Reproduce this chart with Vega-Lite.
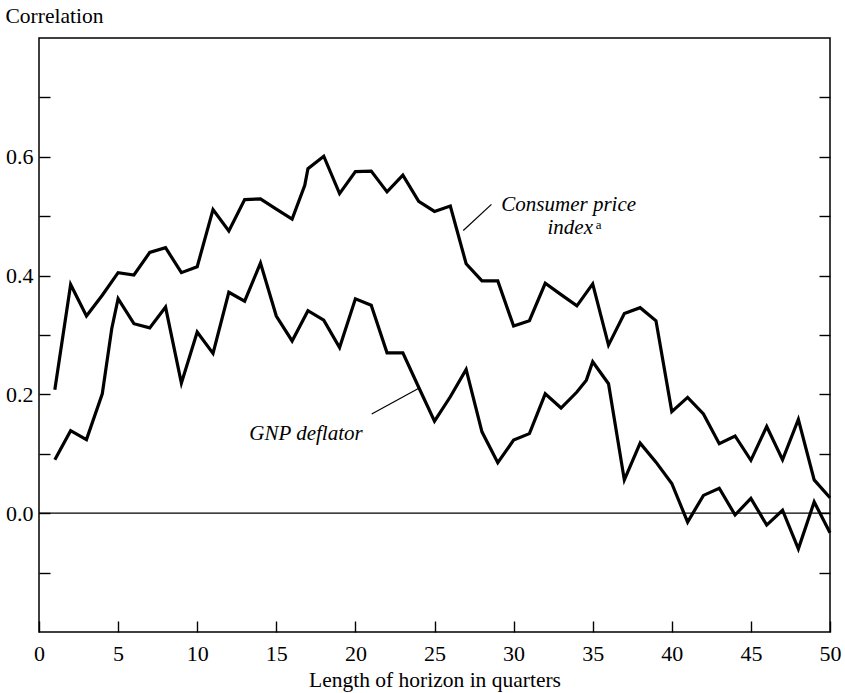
{
  "$schema": "https://vega.github.io/schema/vega-lite/v6.json",
  "width": 791,
  "height": 594,
  "autosize": {"type": "none"},
  "padding": {"left": 39, "top": 38, "right": 15, "bottom": 61},
  "background": "white",
  "config": {
    "view": {"stroke": "black", "strokeWidth": 1.5},
    "font": "Liberation Serif",
    "axis": {
      "labelFont": "Liberation Serif",
      "titleFont": "Liberation Serif",
      "labelColor": "black",
      "titleColor": "black",
      "tickColor": "black",
      "tickWidth": 1.4,
      "domain": false,
      "grid": false,
      "labelFontSize": 22,
      "titleFontSize": 21.5,
      "titleFontWeight": "normal",
      "labelOverlap": false,
      "labelFlush": false
    }
  },
  "datasets": {
    "lines": [
      {"series": "GNP deflator", "q": 1, "v": 0.090},
      {"series": "GNP deflator", "q": 2, "v": 0.139},
      {"series": "GNP deflator", "q": 3, "v": 0.124},
      {"series": "GNP deflator", "q": 4, "v": 0.201},
      {"series": "GNP deflator", "q": 4.6, "v": 0.311},
      {"series": "GNP deflator", "q": 5, "v": 0.361},
      {"series": "GNP deflator", "q": 6, "v": 0.319},
      {"series": "GNP deflator", "q": 7, "v": 0.312},
      {"series": "GNP deflator", "q": 8, "v": 0.347},
      {"series": "GNP deflator", "q": 9, "v": 0.219},
      {"series": "GNP deflator", "q": 10, "v": 0.305},
      {"series": "GNP deflator", "q": 11, "v": 0.269},
      {"series": "GNP deflator", "q": 12, "v": 0.372},
      {"series": "GNP deflator", "q": 13, "v": 0.357},
      {"series": "GNP deflator", "q": 14, "v": 0.421},
      {"series": "GNP deflator", "q": 15, "v": 0.332},
      {"series": "GNP deflator", "q": 16, "v": 0.290},
      {"series": "GNP deflator", "q": 17, "v": 0.341},
      {"series": "GNP deflator", "q": 18, "v": 0.325},
      {"series": "GNP deflator", "q": 19, "v": 0.279},
      {"series": "GNP deflator", "q": 20, "v": 0.361},
      {"series": "GNP deflator", "q": 21, "v": 0.350},
      {"series": "GNP deflator", "q": 22, "v": 0.270},
      {"series": "GNP deflator", "q": 23, "v": 0.270},
      {"series": "GNP deflator", "q": 24, "v": 0.212},
      {"series": "GNP deflator", "q": 25, "v": 0.155},
      {"series": "GNP deflator", "q": 26, "v": 0.196},
      {"series": "GNP deflator", "q": 27, "v": 0.242},
      {"series": "GNP deflator", "q": 28, "v": 0.137},
      {"series": "GNP deflator", "q": 29, "v": 0.085},
      {"series": "GNP deflator", "q": 30, "v": 0.123},
      {"series": "GNP deflator", "q": 31, "v": 0.134},
      {"series": "GNP deflator", "q": 32, "v": 0.201},
      {"series": "GNP deflator", "q": 33, "v": 0.177},
      {"series": "GNP deflator", "q": 34, "v": 0.204},
      {"series": "GNP deflator", "q": 34.6, "v": 0.224},
      {"series": "GNP deflator", "q": 35, "v": 0.255},
      {"series": "GNP deflator", "q": 36, "v": 0.218},
      {"series": "GNP deflator", "q": 37, "v": 0.056},
      {"series": "GNP deflator", "q": 38, "v": 0.118},
      {"series": "GNP deflator", "q": 39, "v": 0.086},
      {"series": "GNP deflator", "q": 40, "v": 0.050},
      {"series": "GNP deflator", "q": 41, "v": -0.015},
      {"series": "GNP deflator", "q": 42, "v": 0.030},
      {"series": "GNP deflator", "q": 43, "v": 0.042},
      {"series": "GNP deflator", "q": 44, "v": -0.003},
      {"series": "GNP deflator", "q": 45, "v": 0.025},
      {"series": "GNP deflator", "q": 46, "v": -0.020},
      {"series": "GNP deflator", "q": 47, "v": 0.005},
      {"series": "GNP deflator", "q": 48, "v": -0.060},
      {"series": "GNP deflator", "q": 49, "v": 0.019},
      {"series": "GNP deflator", "q": 50, "v": -0.033},
      {"series": "Consumer price index", "q": 1, "v": 0.208},
      {"series": "Consumer price index", "q": 2, "v": 0.385},
      {"series": "Consumer price index", "q": 3, "v": 0.332},
      {"series": "Consumer price index", "q": 4, "v": 0.367},
      {"series": "Consumer price index", "q": 5, "v": 0.405},
      {"series": "Consumer price index", "q": 6, "v": 0.401},
      {"series": "Consumer price index", "q": 7, "v": 0.439},
      {"series": "Consumer price index", "q": 8, "v": 0.447},
      {"series": "Consumer price index", "q": 9, "v": 0.405},
      {"series": "Consumer price index", "q": 10, "v": 0.415},
      {"series": "Consumer price index", "q": 11, "v": 0.511},
      {"series": "Consumer price index", "q": 12, "v": 0.475},
      {"series": "Consumer price index", "q": 13, "v": 0.528},
      {"series": "Consumer price index", "q": 14, "v": 0.529},
      {"series": "Consumer price index", "q": 15, "v": 0.512},
      {"series": "Consumer price index", "q": 16, "v": 0.495},
      {"series": "Consumer price index", "q": 16.8, "v": 0.552},
      {"series": "Consumer price index", "q": 17, "v": 0.580},
      {"series": "Consumer price index", "q": 18, "v": 0.601},
      {"series": "Consumer price index", "q": 19, "v": 0.538},
      {"series": "Consumer price index", "q": 20, "v": 0.575},
      {"series": "Consumer price index", "q": 21, "v": 0.576},
      {"series": "Consumer price index", "q": 22, "v": 0.541},
      {"series": "Consumer price index", "q": 23, "v": 0.569},
      {"series": "Consumer price index", "q": 24, "v": 0.525},
      {"series": "Consumer price index", "q": 25, "v": 0.508},
      {"series": "Consumer price index", "q": 26, "v": 0.517},
      {"series": "Consumer price index", "q": 27, "v": 0.420},
      {"series": "Consumer price index", "q": 28, "v": 0.391},
      {"series": "Consumer price index", "q": 29, "v": 0.391},
      {"series": "Consumer price index", "q": 30, "v": 0.315},
      {"series": "Consumer price index", "q": 31, "v": 0.324},
      {"series": "Consumer price index", "q": 32, "v": 0.387},
      {"series": "Consumer price index", "q": 33, "v": 0.368},
      {"series": "Consumer price index", "q": 34, "v": 0.349},
      {"series": "Consumer price index", "q": 35, "v": 0.386},
      {"series": "Consumer price index", "q": 36, "v": 0.283},
      {"series": "Consumer price index", "q": 37, "v": 0.336},
      {"series": "Consumer price index", "q": 38, "v": 0.346},
      {"series": "Consumer price index", "q": 39, "v": 0.324},
      {"series": "Consumer price index", "q": 40, "v": 0.171},
      {"series": "Consumer price index", "q": 41, "v": 0.195},
      {"series": "Consumer price index", "q": 42, "v": 0.167},
      {"series": "Consumer price index", "q": 43, "v": 0.117},
      {"series": "Consumer price index", "q": 44, "v": 0.130},
      {"series": "Consumer price index", "q": 45, "v": 0.089},
      {"series": "Consumer price index", "q": 46, "v": 0.146},
      {"series": "Consumer price index", "q": 47, "v": 0.090},
      {"series": "Consumer price index", "q": 48, "v": 0.158},
      {"series": "Consumer price index", "q": 49, "v": 0.056},
      {"series": "Consumer price index", "q": 50, "v": 0.026}
    ],
    "labels": [
      {"label": "Consumer price", "q": 37.74, "v": 0.508},
      {"label": "index", "q": 35.02, "v": 0.470},
      {"label": "GNP deflator", "q": 20.46, "v": 0.123}
    ],
    "notes": [
      {"label": "a", "q": 35.2, "v": 0.478}
    ],
    "leaders": [
      {"q": 28.6, "v": 0.520, "q2": 26.82, "v2": 0.476},
      {"q": 23.98, "v": 0.210, "q2": 21.03, "v2": 0.167}
    ]
  },
  "layer": [
    {
      "data": {"name": "lines"},
      "mark": {"type": "line", "color": "black", "strokeWidth": 3.2},
      "encoding": {
        "x": {
          "field": "q",
          "type": "quantitative",
          "scale": {"domain": [0, 50], "nice": false, "zero": false},
          "axis": {
            "orient": "bottom",
            "values": [0, 5, 10, 15, 20, 25, 30, 35, 40, 45, 50],
            "tickSize": -11,
            "labelPadding": 22,
            "title": "Length of horizon in quarters",
            "titleY": 54,
            "titleAlign": "center",
            "titleBaseline": "alphabetic"
          }
        },
        "y": {
          "field": "v",
          "type": "quantitative",
          "scale": {"domain": [-0.2, 0.8], "nice": false, "zero": false},
          "axis": {
            "orient": "left",
            "values": [-0.1, 0, 0.1, 0.2, 0.3, 0.4, 0.5, 0.6, 0.7],
            "tickSize": -11,
            "labelPadding": 17,
            "labelExpr": "(round(datum.value*10) % 2 == 0 && datum.value >= 0) ? format(datum.value, '.1f') : ''",
            "title": "Correlation",
            "titleAngle": 0,
            "titleX": -34,
            "titleY": -16,
            "titleAlign": "left",
            "titleBaseline": "alphabetic"
          }
        },
        "detail": {"field": "series"}
      }
    },
    {
      "data": {"values": [{"zero": 0}]},
      "mark": {"type": "rule", "color": "black", "strokeWidth": 1.2},
      "encoding": {
        "y": {
          "field": "zero",
          "type": "quantitative",
          "axis": {
            "orient": "right",
            "values": [-0.1, 0, 0.1, 0.2, 0.3, 0.4, 0.5, 0.6, 0.7],
            "tickSize": -11,
            "labels": false,
            "title": null
          }
        }
      }
    },
    {
      "data": {"name": "leaders"},
      "mark": {"type": "rule", "color": "black", "strokeWidth": 1.2},
      "encoding": {
        "x": {"field": "q", "type": "quantitative"},
        "x2": {"field": "q2"},
        "y": {"field": "v", "type": "quantitative", "axis": null},
        "y2": {"field": "v2"}
      }
    },
    {
      "data": {"name": "labels"},
      "mark": {"type": "text", "align": "right", "baseline": "alphabetic", "fontSize": 21, "fontStyle": "italic", "font": "Liberation Serif", "color": "black"},
      "encoding": {
        "x": {"field": "q", "type": "quantitative"},
        "y": {"field": "v", "type": "quantitative", "axis": null},
        "text": {"field": "label"}
      }
    },
    {
      "data": {"name": "notes"},
      "mark": {"type": "text", "align": "left", "baseline": "alphabetic", "fontSize": 13, "font": "Liberation Serif", "color": "black"},
      "encoding": {
        "x": {"field": "q", "type": "quantitative"},
        "y": {"field": "v", "type": "quantitative", "axis": null},
        "text": {"field": "label"}
      }
    }
  ],
  "resolve": {"axis": {"y": "independent"}}
}
